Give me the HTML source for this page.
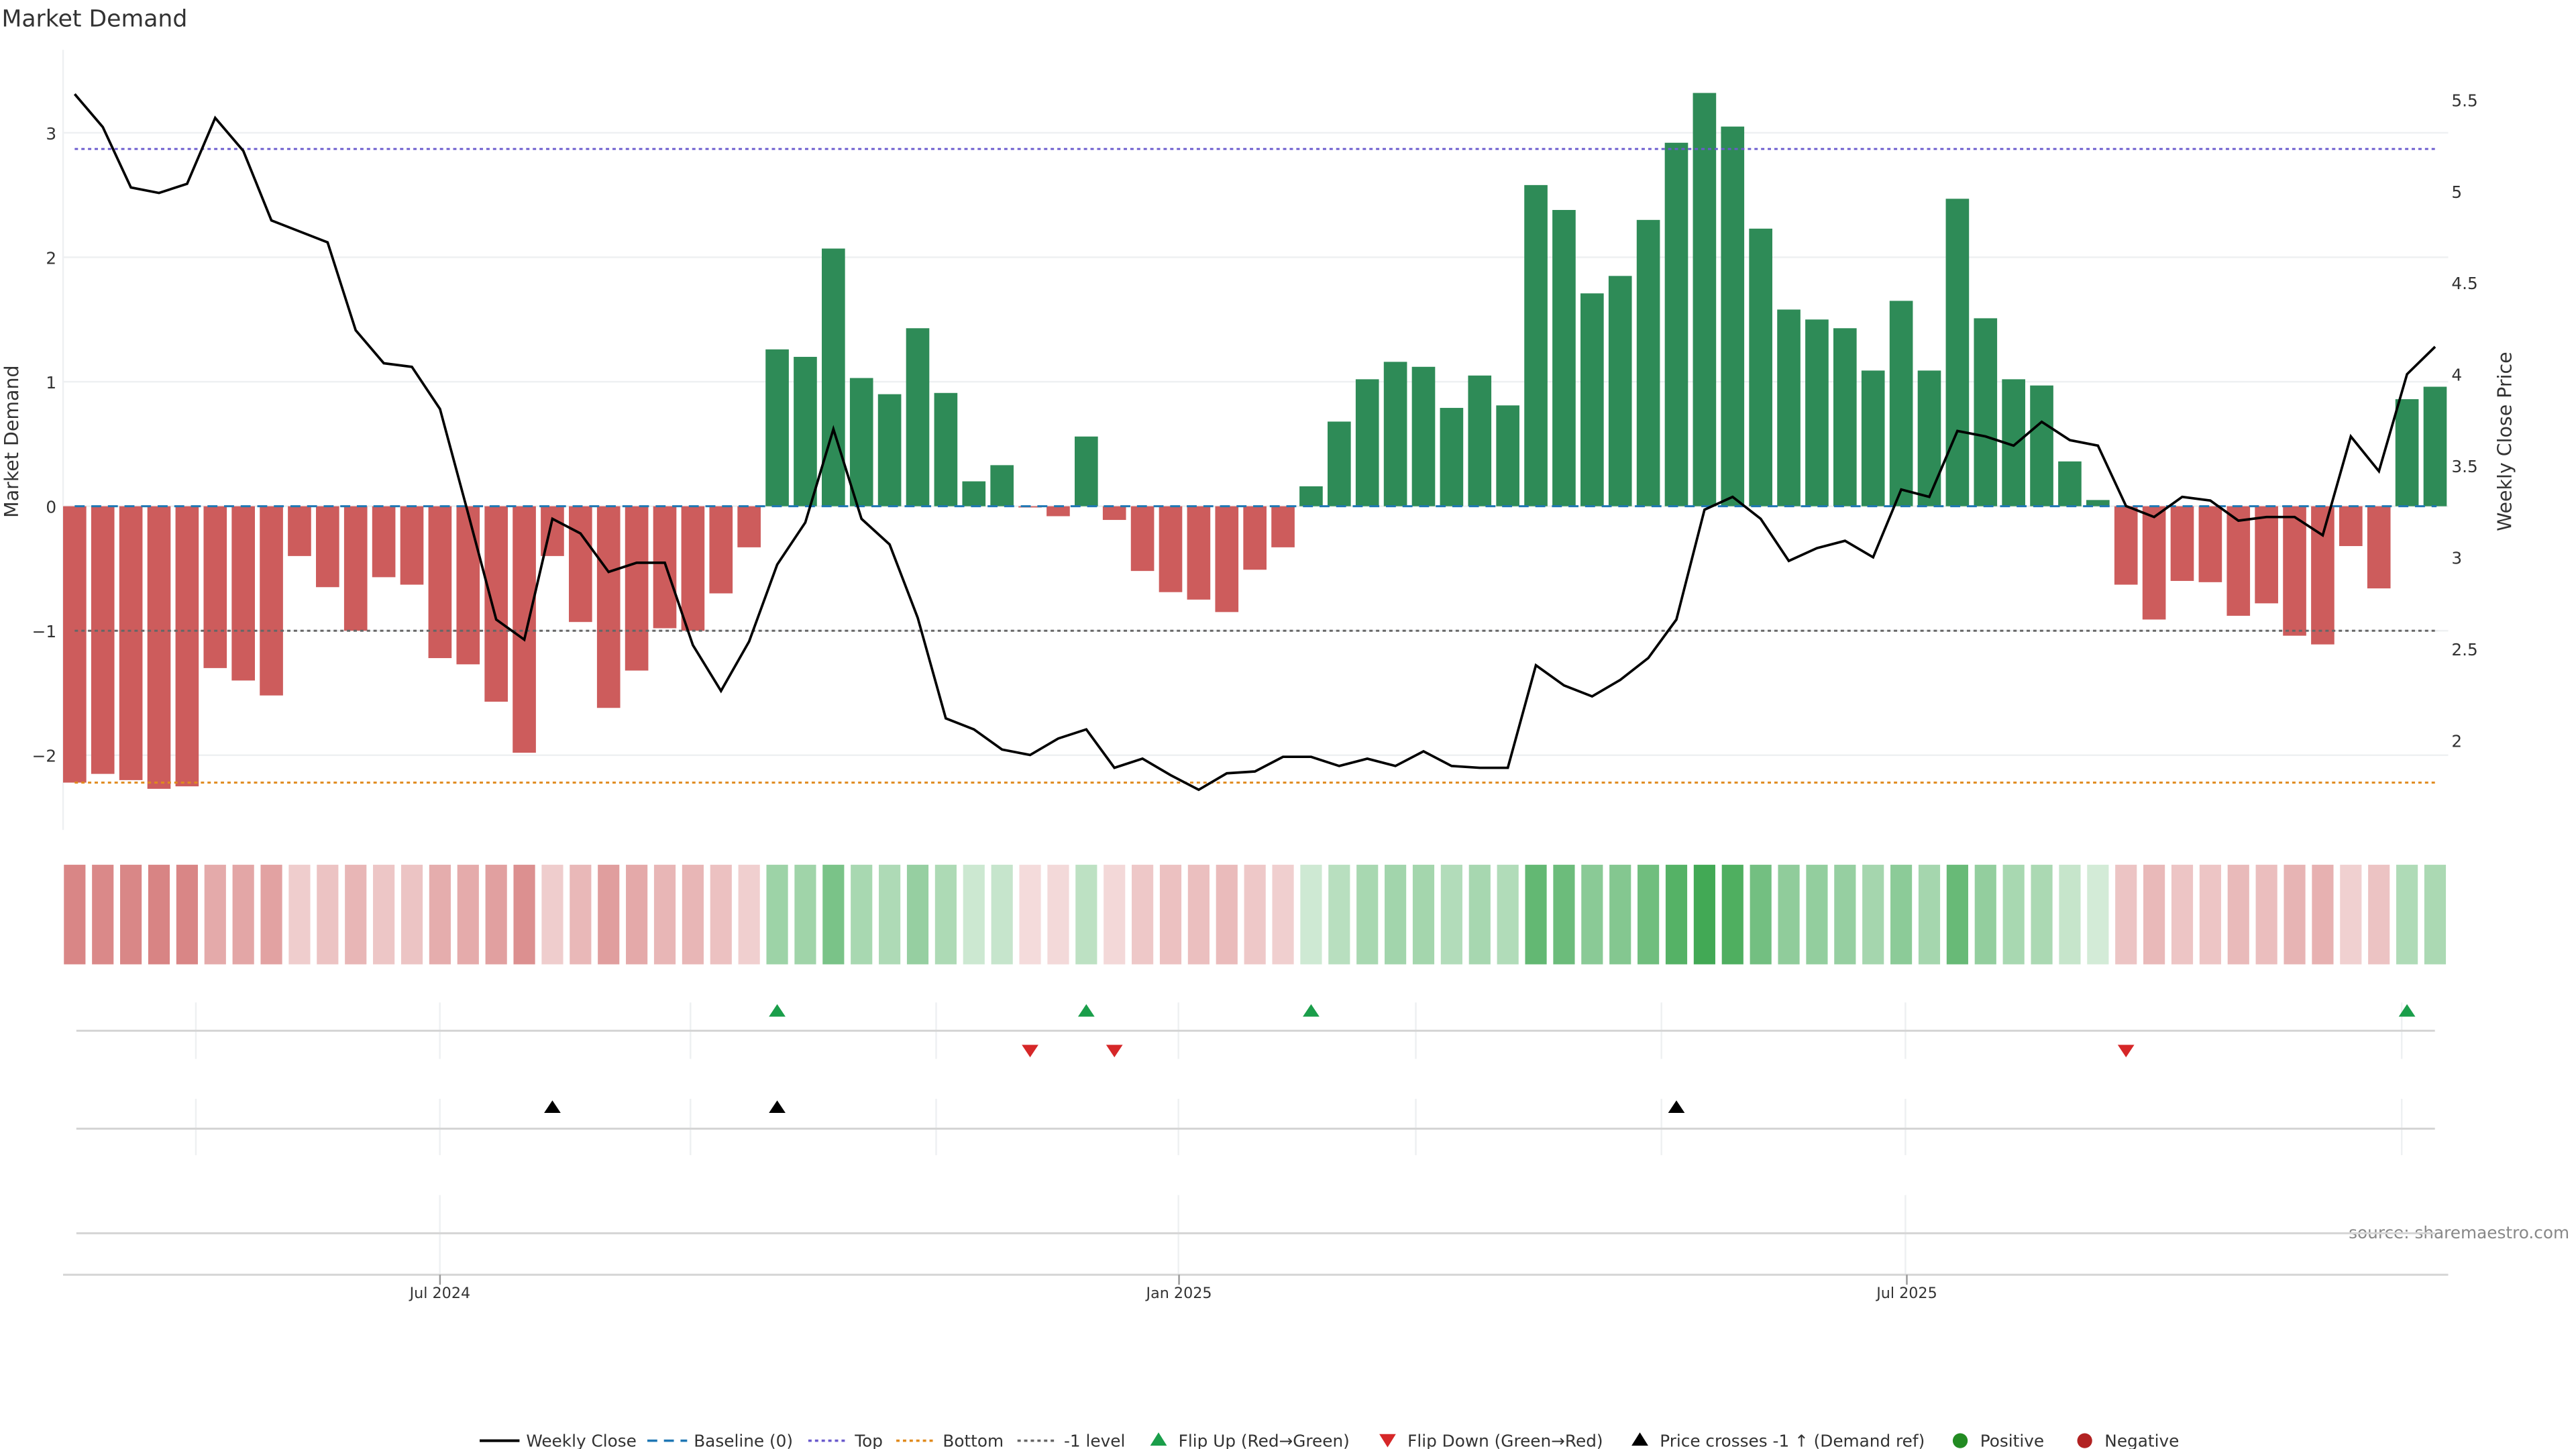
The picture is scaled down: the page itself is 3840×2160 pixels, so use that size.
<!DOCTYPE html>
<html><head><meta charset="utf-8"><style>
html,body{margin:0;padding:0;background:#fff;width:3840px;height:2160px;overflow:hidden}
svg{display:block;font-family:"DejaVu Sans","Liberation Sans",sans-serif}
</style></head><body>
<svg id="chart" width="3840" height="2160" viewBox="0 0 1552 873" xmlns="http://www.w3.org/2000/svg">
<text x="1" y="16" font-size="14" fill="#333">Market Demand</text>
<text transform="translate(11,266) rotate(-90)" font-size="11.5" fill="#333" text-anchor="middle">Market Demand</text>
<text transform="translate(1513,266) rotate(-90)" font-size="11.5" fill="#333" text-anchor="middle">Weekly Close Price</text>
<text x="1548" y="746" font-size="10" fill="#888" text-anchor="end">source: sharemaestro.com</text>
<g id="grid"></g><g id="bars"></g><g id="refs"></g><g id="price"></g><g id="heat"></g><g id="markers"></g><g id="xaxis"></g><g id="legend"></g>
</svg>
<script>
const demand=[-2.22,-2.15,-2.2,-2.27,-2.25,-1.3,-1.4,-1.52,-0.4,-0.65,-1.0,-0.57,-0.63,-1.22,-1.27,-1.57,-1.98,-0.4,-0.93,-1.62,-1.32,-0.98,-1.0,-0.7,-0.33,1.26,1.2,2.07,1.03,0.9,1.43,0.91,0.2,0.33,-0.01,-0.08,0.56,-0.11,-0.52,-0.69,-0.75,-0.85,-0.51,-0.33,0.16,0.68,1.02,1.16,1.12,0.79,1.05,0.81,2.58,2.38,1.71,1.85,2.3,2.92,3.32,3.05,2.23,1.58,1.5,1.43,1.09,1.65,1.09,2.47,1.51,1.02,0.97,0.36,0.05,-0.63,-0.91,-0.6,-0.61,-0.88,-0.78,-1.04,-1.11,-0.32,-0.66,0.86,0.96];
const price=[5.53,5.35,5.02,4.99,5.04,5.40,5.22,4.84,4.78,4.72,4.24,4.06,4.04,3.81,3.24,2.66,2.55,3.21,3.13,2.92,2.97,2.97,2.52,2.27,2.54,2.96,3.19,3.70,3.21,3.07,2.67,2.12,2.06,1.95,1.92,2.01,2.06,1.85,1.90,1.81,1.73,1.82,1.83,1.91,1.91,1.86,1.90,1.86,1.94,1.86,1.85,1.85,2.41,2.30,2.24,2.33,2.45,2.66,3.26,3.33,3.21,2.98,3.05,3.09,3.00,3.37,3.33,3.69,3.66,3.61,3.74,3.64,3.61,3.28,3.22,3.33,3.31,3.20,3.22,3.22,3.12,3.66,3.47,4.00,4.15];
const flipUp=[25,36,44,83];
const flipDown=[34,37,73];
const crossUp=[17,25,57];
const leftTicks=[-2,-1,0,1,2,3];
const rightTicks=[2,2.5,3,3.5,4,4.5,5,5.5];
const xTickLabels=["Jul 2024","Jan 2025","Jul 2025"];
const xTickWeeks=[13.0,39.3,65.2];
const topLevel=2.87, bottomLevel=-2.22, minusOne=-1;

const NS="http://www.w3.org/2000/svg";
function mk(tag,attrs,parent,txt){const e=document.createElementNS(NS,tag);for(const k in attrs)e.setAttribute(k,attrs[k]);if(txt!==undefined)e.textContent=txt;document.getElementById(parent).appendChild(e);return e;}
const X=i=>45+i*16.93;
const Y=v=>305-v*75;
const P=p=>60+(5.5-p)*110.3;
const BW=14;

// grid
leftTicks.forEach(t=>{
 const l=mk('line',{x1:38,x2:1475,y1:Y(t),y2:Y(t),stroke:'#eef0f2','stroke-width':1},'grid');
 
 
 const tx=mk('text',{x:34,y:Y(t)+4,'font-size':10,fill:'#333','text-anchor':'end'},'grid',t<0?'\u2212'+Math.abs(t):String(t));
 
 
});
rightTicks.forEach(t=>{
 const tx=mk('text',{x:1477,y:P(t)+4,'font-size':10,fill:'#333'},'grid',String(t));
 
 
});
const ax=mk('line',{x1:38,x2:38,y1:30,y2:500,stroke:'#eef0f2'},'grid');



// bars
demand.forEach((v,i)=>{
 const y0=Y(0),y1=Y(v);
 const r=mk('rect',{x:X(i)-BW/2,y:Math.min(y0,y1),width:BW,height:Math.max(Math.abs(y1-y0),0.5),fill:v>=0?'#2e8b57':'#cd5c5c'},'bars');
 
 
});

// reference lines
function ref(v,col,dash,name){const l=mk('line',{x1:45,x2:1468,y1:Y(v),y2:Y(v),stroke:col,'stroke-width':1.2,'stroke-dasharray':dash},'refs');
 
 }
ref(0,'#1f77b4','6 4','baseline-line');
ref(topLevel,'#6a5acd','2 2','top-line');
ref(bottomLevel,'#e08a1e','2 2','bottom-line');
ref(minusOne,'#666','2 2','minus-one-line');

// price
const pl=mk('polyline',{points:price.map((p,i)=>X(i)+','+P(p)).join(' '),fill:'none',stroke:'#000','stroke-width':1.5},'price');



// heatmap
demand.forEach((v,i)=>{
 let fill;
 if(v>=0){const a=0.2+0.7*Math.min(v/3.32,1);fill=`rgba(46,160,67,${a.toFixed(3)})`;}
 else{const a=0.2+0.5*Math.min(-v/2.27,1);fill=`rgba(200,80,80,${a.toFixed(3)})`;}
 const r=mk('rect',{x:X(i)-6.5,y:521,width:13,height:60,fill:fill},'heat');
 
 
});

// marker panels
[118,265,416,564,710,853,1001,1148,1447].forEach(x=>{
 [[604,638],[662,696]].forEach(([a,b])=>{const l=mk('line',{x1:x,x2:x,y1:a,y2:b,stroke:'#eef0f2'},'markers');
 
 });
});
[265,710,1148].forEach(x=>{const l=mk('line',{x1:x,x2:x,y1:720,y2:768,stroke:'#eef0f2'},'markers');
 
 });
[621,680,743].forEach(y=>{const l=mk('line',{x1:46,x2:1467,y1:y,y2:y,stroke:'#d5d5d5','stroke-width':1.2},'markers');
 
 });
function tri(x,y,up,col,name){const d=up?`M${x-5},${y+3.5} L${x+5},${y+3.5} L${x},${y-4} Z`:`M${x-5},${y-3.5} L${x+5},${y-3.5} L${x},${y+4} Z`;
 const p=mk('path',{d:d,fill:col},'markers');
 
 }
flipUp.forEach(i=>tri(X(i),609,true,'#1a9e4a','flip-up-marker'));
flipDown.forEach(i=>tri(X(i),633,false,'#d62728','flip-down-marker'));
crossUp.forEach(i=>tri(X(i),667,true,'#000','price-cross-marker'));

// x axis
const xl=mk('line',{x1:38,x2:1475,y1:768,y2:768,stroke:'#d5d5d5','stroke-width':1.2},'xaxis');


xTickWeeks.forEach((w,k)=>{
 const x=X(w);
 const t=mk('line',{x1:x,x2:x,y1:768,y2:774,stroke:'#999'},'xaxis');
 
 
 const tx=mk('text',{x:x,y:782,'font-size':9,fill:'#333','text-anchor':'middle'},'xaxis',xTickLabels[k]);
 
 
});

// legend
const items=[
 ['line','#000','',289,'Weekly Close'],['line','#1f77b4','6 4',390,'Baseline (0)'],['line','#6a5acd','2 2',487,'Top'],
 ['line','#e08a1e','2 2',540,'Bottom'],['line','#666','2 2',613,'-1 level'],['up','#1a9e4a','',698,'Flip Up (Red\u2192Green)'],
 ['down','#d62728','',836,'Flip Down (Green\u2192Red)'],['up','#000','',988,'Price crosses -1 \u2191 (Demand ref)'],
 ['dot','#228b22','',1181,'Positive'],['dot','#b22222','',1256,'Negative']];
items.forEach(([k,c,d,x,lab])=>{
 const g=mk('g',{},'legend');
 
 
 const y=868;
 let s;
 if(k==='line'){s=document.createElementNS(NS,'line');[['x1',x],['x2',x+24],['y1',y],['y2',y],['stroke',c],['stroke-width',k==='line'&&!d?1.6:1.4]].forEach(a=>s.setAttribute(a[0],a[1]));if(d)s.setAttribute('stroke-dasharray',d);}
 else if(k==='dot'){s=document.createElementNS(NS,'circle');s.setAttribute('cx',x);s.setAttribute('cy',y);s.setAttribute('r',4.5);s.setAttribute('fill',c);}
 else{s=document.createElementNS(NS,'path');const up=k==='up';s.setAttribute('d',up?`M${x-5},${y+3} L${x+5},${y+3} L${x},${y-5} Z`:`M${x-5},${y-4} L${x+5},${y-4} L${x},${y+4} Z`);s.setAttribute('fill',c);}
 g.appendChild(s);
 const tx=document.createElementNS(NS,'text');
 tx.setAttribute('x',k==='line'?x+28:x+12);tx.setAttribute('y',y+3.5);tx.setAttribute('font-size',10);tx.setAttribute('fill','#333');
 tx.textContent=lab;g.appendChild(tx);
});
</script>
</body></html>
